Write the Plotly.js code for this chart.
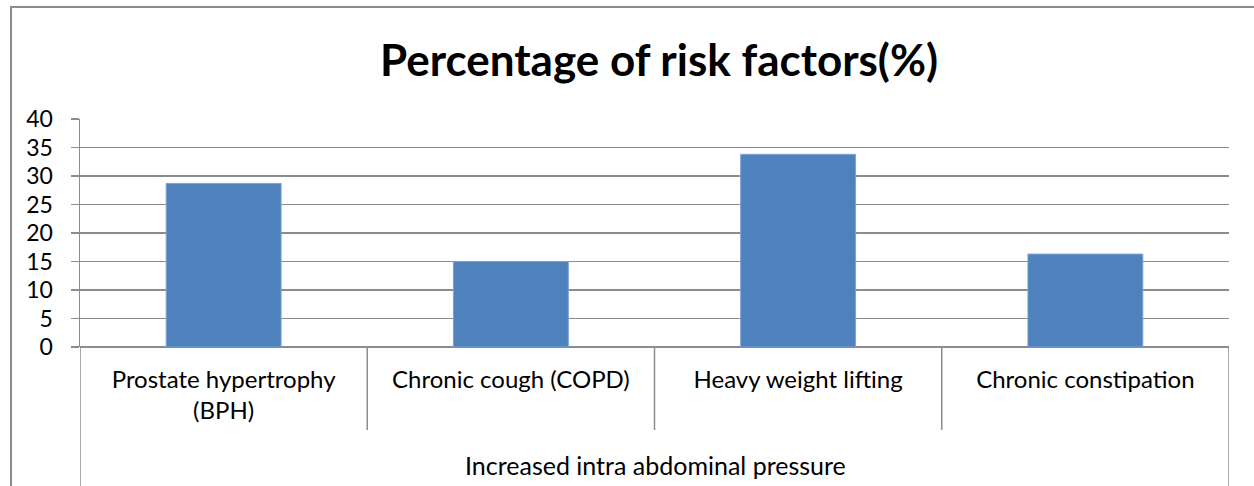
<!DOCTYPE html>
<html>
<head>
<meta charset="utf-8">
<script src="https://cdn.plot.ly/plotly-3.0.1.min.js"></script>
<style>html,body{margin:0;padding:0;background:#fff;}#chart{width:1254px;height:486px;}</style>
</head>
<body>
<div id="chart"></div>
<script>
const categories = ["Prostate hypertrophy<br>(BPH)", "Chronic cough (COPD)", "Heavy weight lifting", "Chronic constipation"];
const values = [28.7, 15.0, 33.8, 16.3];
const groupLabel = "Increased intra abdominal pressure";
const chartTitle = "Percentage of risk factors(%)";
const yTicks = [0, 5, 10, 15, 20, 25, 30, 35, 40];

const W = 1254, H = 486;
const M = {l: 80, r: 25, t: 119, b: 139};
const pw = W - M.l - M.r, ph = H - M.t - M.b;
const px = x => (x - M.l) / pw;          // pixel -> paper x
const py = y => (H - M.b - y) / ph;      // pixel -> paper y

const FONT = "Lato, 'Carlito', Calibri, sans-serif";
const GRAY = "#8c8c8c";

const shapes = [];
// outer chart-area border (top + left, extends off-page)
shapes.push({type: "rect", xref: "paper", yref: "paper", x0: px(11), x1: px(1300), y0: py(520), y1: py(7),
  line: {color: GRAY, width: 2}, fillcolor: "rgba(0,0,0,0)", layer: "below"});
// category dividers
for (let i = 0; i <= categories.length; i++) {
  const outer = (i === 0 || i === categories.length);
  shapes.push({type: "line", xref: "x", yref: "paper", x0: i - 0.5, x1: i - 0.5, y0: 0, y1: outer ? py(490) : py(430),
    line: {color: GRAY, width: 1.5}});
}

const data = [{
  type: "bar",
  x: categories,
  y: values,
  marker: {color: "#4F81BD", line: {color: "#7ba3d6", width: 1}},
  width: 0.4,
  hoverinfo: "x+y"
}];

const layout = {
  width: W, height: H,
  margin: M,
  paper_bgcolor: "#fff", plot_bgcolor: "#fff",
  showlegend: false,
  title: {text: "<b>" + chartTitle + "</b>", font: {family: FONT, size: 44, color: "#000"},
    x: px(659), xanchor: "center", xref: "paper", y: 1 - 61 / H, yanchor: "middle"},
  xaxis: {
    type: "category",
    showgrid: false, zeroline: false,
    showline: false,
    ticks: "", ticklabelstandoff: 16,
    tickfont: {family: FONT, size: 24, color: "#000"},
    range: [-0.5, categories.length - 0.5],
    fixedrange: true
  },
  yaxis: {
    range: [0, 40], tickvals: yTicks, ticktext: yTicks.map(String),
    showgrid: true, gridcolor: GRAY, gridwidth: 1.5,
    zeroline: true, zerolinecolor: GRAY, zerolinewidth: 1.5,
    showline: true, linecolor: GRAY, linewidth: 1.5,
    ticks: "outside", ticklen: 8, tickcolor: GRAY, tickwidth: 1.5,
    ticklabelstandoff: 13,
    tickfont: {family: FONT, size: 23, color: "#000"},
    fixedrange: true
  },
  shapes: shapes,
  annotations: [{
    text: groupLabel, xref: "paper", yref: "paper", x: px(655), y: py(465),
    xanchor: "center", yanchor: "middle", showarrow: false,
    font: {family: FONT, size: 25, color: "#000"}
  }]
};

Plotly.newPlot("chart", data, layout, {displayModeBar: false, staticPlot: true});
</script>
</body>
</html>
